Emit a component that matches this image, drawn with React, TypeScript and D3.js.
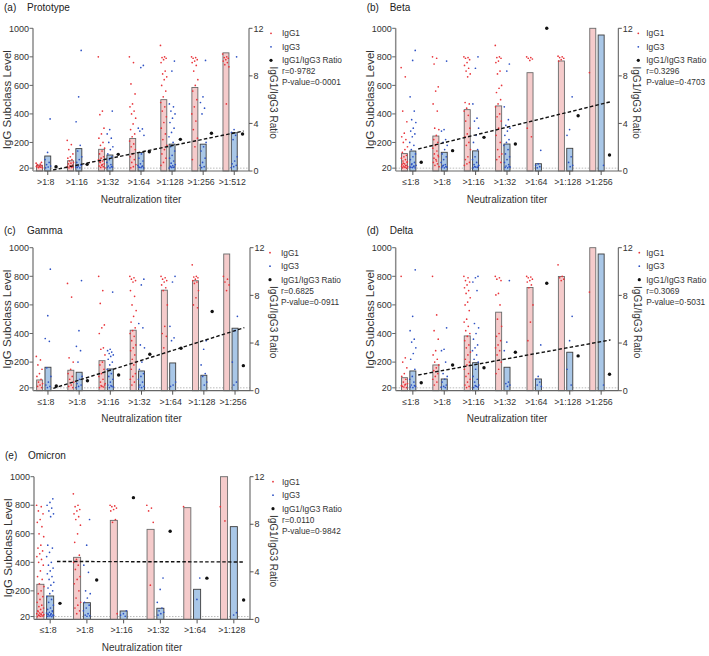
import React from "react";
import * as d3 from "d3";

// ---------- DATA ----------
const catsA = [">1:8", ">1:16", ">1:32", ">1:64", ">1:128", ">1:256", ">1:512"];
const catsBCD = ["≤1:8", ">1:8", ">1:16", ">1:32", ">1:64", ">1:128", ">1:256"];
const catsE = ["≤1:8", ">1:8", ">1:16", ">1:32", ">1:64", ">1:128"];

const igg1MeanA = [40, 72, 152, 228, 500, 585, 828];
const igg3MeanA = [105, 157, 112, 130, 188, 188, 268];
const ratioA = [0.36, 0.56, 1.4, 1.62, 2.66, 3.17, 3.11];
const fitA = [0.08, 3.36];
const statsA = ["r=0·9782", "P-value=0·0001"];
const igg1PtsA = [
  [55, 48, 42, 38, 33, 30, 27, 24, 22, 35, 45, 60, 26, 32],
  [215, 185, 150, 120, 100, 90, 80, 70, 60, 55, 50, 42, 36, 30, 25, 22, 28, 34],
  [800, 420, 395, 300, 260, 230, 200, 180, 160, 140, 120, 100, 90, 80, 70, 60, 50, 40, 35, 30, 25, 22, 45, 65],
  [800, 760, 610, 540, 470, 450, 420, 400, 370, 330, 290, 260, 240, 210, 190, 170, 150, 120, 100, 80, 60, 45, 30, 22],
  [880, 800, 795, 790, 780, 760, 700, 680, 660, 640, 600, 560, 520, 480, 450, 420, 380, 340, 300, 260, 220, 180, 150, 120, 90, 60, 40],
  [800, 795, 790, 780, 770, 760, 740, 700, 640, 600, 560, 500, 450, 400, 350, 290, 230, 170, 80],
  [820, 800, 795, 790, 780, 770, 760, 745, 730, 470],
];
const igg3PtsA = [
  [365, 130, 80, 60, 45, 35, 28, 22],
  [845, 520, 345, 180, 140, 100, 80, 60, 45, 35, 28, 22, 25, 40],
  [420, 290, 260, 230, 200, 170, 150, 120, 100, 80, 60, 45, 35, 28, 22, 25, 30],
  [740, 725, 300, 295, 280, 250, 120, 90, 70, 50, 40, 32, 26, 22, 24, 28, 35],
  [770, 700, 470, 450, 420, 400, 370, 340, 300, 270, 240, 200, 170, 140, 110, 90, 70, 55, 45, 38, 32, 28, 24, 21, 26, 30],
  [775, 520, 480, 440, 400, 200, 170, 140, 90, 60, 40, 30, 24],
  [800, 290, 270, 250, 220, 100, 70, 50, 40, 30, 24],
];

const igg1MeanB = [122, 245, 430, 456, 689, 771, 1000];
const igg3MeanB = [140, 131, 141, 189, 51, 159, 953];
const ratioB = [0.73, 1.71, 2.83, 2.27, 12.0, 4.65, 1.34];
const fitB = [1.85, 5.82];
const statsB = ["r=0.3296", "P-value=0·4703"];
const igg1PtsB = [
  [725, 660, 420, 345, 265, 240, 220, 200, 170, 150, 130, 110, 100, 90, 80, 70, 60, 50, 45, 40, 35, 30, 25, 22, 20, 28, 33, 38, 55, 65],
  [800, 790, 750, 590, 560, 470, 420, 300, 290, 250, 220, 200, 180, 160, 140, 120, 100, 80, 60, 50, 40, 30, 70, 90, 110],
  [800, 795, 790, 780, 760, 740, 720, 700, 680, 660, 480, 470, 440, 420, 390, 350, 300, 260, 240, 200, 180, 150, 100, 80, 60, 50, 40],
  [880, 800, 795, 790, 770, 760, 700, 680, 600, 580, 550, 500, 470, 450, 400, 380, 350, 300, 250, 200, 150, 120, 100, 80, 60],
  [800, 795, 790, 785, 775, 300, 240],
  [805, 800, 795, 790, 780, 770],
  [690],
];
const igg3PtsB = [
  [845, 775, 520, 420, 360, 340, 300, 280, 260, 240, 200, 180, 150, 120, 100, 80, 60, 50, 40, 32, 26, 22, 24, 28, 35, 45],
  [770, 290, 280, 220, 200, 180, 150, 120, 100, 80, 60, 45, 35, 28, 22, 25, 30, 40],
  [800, 720, 470, 370, 350, 300, 250, 200, 150, 100, 80, 60, 45, 35, 28, 22, 25, 30, 40],
  [750, 700, 450, 360, 320, 300, 280, 250, 220, 200, 180, 150, 120, 100, 80, 60, 45, 35, 28, 22, 25, 30],
  [145, 50, 40, 30, 22],
  [520, 290, 250, 100, 60, 40, 30],
  [40],
];

const igg1MeanC = [75, 143, 210, 423, 703, 769, 956];
const igg3MeanC = [164, 129, 152, 138, 194, 108, 437];
const ratioC = [0.39, 0.84, 1.32, 3.06, 3.56, 6.64, 2.1];
const fitC = [0.2, 5.29];
const statsC = ["r=0.6825", "P-value=0·0911"];
const igg1PtsC = [
  [240, 215, 180, 150, 120, 100, 80, 60, 50, 40, 30, 22],
  [750, 655, 230, 200, 150, 120, 100, 80, 60, 40, 30, 22],
  [800, 700, 610, 460, 440, 400, 300, 290, 250, 200, 180, 150, 120, 100, 80, 60, 40, 30, 22, 26, 35, 50],
  [800, 790, 780, 770, 760, 700, 660, 600, 560, 520, 480, 440, 420, 400, 380, 350, 320, 300, 280, 250, 220, 200, 180, 150, 120, 100, 80, 60, 40],
  [800, 790, 780, 770, 760, 740, 720, 700, 600, 450, 400, 380, 300],
  [880, 800, 795, 790, 780, 770, 760, 750, 700, 650, 600, 580],
  [800, 780, 760, 740, 700],
];
const igg3PtsC = [
  [850, 525, 365, 345, 160, 100, 60, 40, 30, 22],
  [770, 420, 310, 280, 200, 100, 80, 50, 40, 30, 22],
  [690, 290, 280, 270, 260, 250, 240, 220, 200, 180, 150, 120, 100, 80, 60, 40, 30, 22, 26, 35],
  [780, 740, 470, 440, 320, 300, 200, 150, 120, 100, 80, 60, 40, 30, 22, 26],
  [800, 760, 450, 370, 350, 60, 40, 30],
  [350, 290, 180, 120, 100, 60, 40],
  [520, 420, 200, 60, 40],
];

const igg1MeanD = [91, 180, 383, 549, 722, 799, 1000];
const igg3MeanD = [138, 82, 196, 164, 82, 269, 956];
const ratioD = [0.67, 2.16, 1.93, 3.23, 9.02, 2.92, 1.38];
const fitD = [1.32, 4.26];
const statsD = ["r=0.3069", "P-value=0·5031"];
const igg1PtsD = [
  [800, 230, 200, 160, 120, 100, 80, 60, 50, 40, 30, 22, 26, 35, 45],
  [800, 530, 420, 360, 280, 250, 220, 200, 180, 160, 140, 120, 100, 80, 60, 40],
  [800, 790, 770, 760, 740, 720, 700, 680, 650, 620, 600, 560, 500, 480, 450, 420, 400, 380, 350, 320, 300, 270, 250, 220, 200, 180, 150, 120, 100, 80, 60, 40, 30, 22],
  [800, 790, 780, 770, 680, 670, 600, 500, 450, 400, 380, 350, 320, 300, 280, 250, 200, 150, 120],
  [800, 795, 790, 780, 770, 760, 740, 720, 600, 480, 350],
  [880, 800, 790, 780, 770],
  [690],
];
const igg3PtsD = [
  [845, 520, 420, 360, 340, 300, 260, 220, 150, 100, 80, 60, 40, 30, 22, 26, 35],
  [440, 290, 280, 200, 120, 100, 80, 60, 40, 30, 25, 22],
  [800, 790, 760, 700, 470, 440, 400, 360, 320, 300, 280, 250, 220, 200, 150, 100, 80, 60, 40, 30, 22, 26, 35],
  [770, 340, 280, 60, 50, 40, 30],
  [320, 100, 80, 60, 40, 30],
  [520, 350, 150, 40],
  [40],
];

const igg1MeanE = [246, 435, 694, 631, 783, 1000];
const igg3MeanE = [164, 117, 59, 78, 211, 650];
const ratioE = [1.35, 3.31, 10.24, 7.41, 3.47, 1.63];
const fitE = [4.87, 4.83];
const statsE = ["r=0.0110", "P-value=0·9842"];
const igg1PtsE = [
  [800, 790, 760, 740, 700, 680, 650, 600, 580, 520, 500, 480, 460, 440, 420, 400, 380, 340, 300, 280, 250, 230, 200, 180, 160, 140, 120, 100, 90, 80, 70, 60, 50, 45, 40, 35, 30, 25, 22, 20, 24, 28, 33, 38, 55],
  [880, 800, 790, 770, 760, 740, 720, 700, 660, 600, 540, 450, 420, 400, 380, 350, 300, 280, 250, 200, 150, 120, 100, 80, 60, 40],
  [800, 795, 790, 780, 770, 760, 700, 680, 40],
  [800, 780, 760, 680, 240],
  [790],
  [790, 690],
];
const igg3PtsE = [
  [845, 820, 800, 780, 760, 740, 720, 520, 500, 470, 440, 400, 380, 360, 340, 320, 300, 280, 260, 240, 220, 200, 180, 160, 140, 120, 100, 80, 70, 60, 50, 45, 40, 35, 30, 25, 22, 20, 24, 28, 33, 38, 55],
  [700, 520, 380, 330, 200, 180, 150, 120, 100, 80, 60, 40, 30, 25, 22],
  [60, 40, 30, 22],
  [290, 210, 120, 80, 60, 50, 40, 30],
  [290, 140],
  [47, 31],
];

const leftTicks = [20, 200, 400, 600, 800, 1000];
const rightTicks = [0, 4, 8, 12];
const legendLabels = ["IgG1", "IgG3", "IgG1/IgG3 Ratio"];

// ---------- LAYOUT ----------
const FONT = "'Liberation Sans', Arial, Helvetica, sans-serif";
const GROUP = 3.75;

const panels = [
  { letter: "(a)", name: "Prototype", cats: catsA, g1: igg1MeanA, g3: igg3MeanA, ratio: ratioA, fit: fitA, stats: statsA, p1: igg1PtsA, p3: igg3PtsA,
    L: { x0: 33, x1: 249, yTop: 28.3, yBase: 171, pad: 0.78, titleY: 11, mk: 22, tx: 33, rt: 21 } },
  { letter: "(b)", name: "Beta", cats: catsBCD, g1: igg1MeanB, g3: igg3MeanB, ratio: ratioB, fit: fitB, stats: statsB, p1: igg1PtsB, p3: igg3PtsB,
    L: { x0: 395.7, x1: 618.3, yTop: 28.3, yBase: 171, pad: 1.05, titleY: 11, mk: 20, tx: 28, rt: 14.5 } },
  { letter: "(c)", name: "Gamma", cats: catsBCD, g1: igg1MeanC, g3: igg3MeanC, ratio: ratioC, fit: fitC, stats: statsC, p1: igg1PtsC, p3: igg3PtsC,
    L: { x0: 33, x1: 250, yTop: 247.7, yBase: 390.7, pad: 0.8, titleY: 234, mk: 20, tx: 31, rt: 19.5 } },
  { letter: "(d)", name: "Delta", cats: catsBCD, g1: igg1MeanD, g3: igg3MeanD, ratio: ratioD, fit: fitD, stats: statsD, p1: igg1PtsD, p3: igg3PtsD,
    L: { x0: 395.7, x1: 618.3, yTop: 247.7, yBase: 390.7, pad: 1.05, titleY: 234, mk: 21, tx: 28, rt: 16 } },
  { letter: "(e)", name: "Omicron", cats: catsE, g1: igg1MeanE, g3: igg3MeanE, ratio: ratioE, fit: fitE, stats: statsE, p1: igg1PtsE, p3: igg3PtsE,
    L: { x0: 34, x1: 250, yTop: 476.7, yBase: 619.4, pad: 0.65, titleY: 458.5, mk: 23, tx: 32, rt: 20 } },
];

function Panel({ p }: { p: any }) {
  const { L, cats } = p;
  const n = cats.length;
  const x = d3.scaleLinear().domain([-L.pad, (n - 1) * GROUP + 2 + L.pad]).range([L.x0, L.x1]);
  const slot = x(1) - x(0);
  const bw = slot * 0.72;
  const y = d3.scaleLinear().domain([0, 1000]).range([L.yBase, L.yTop]);
  const yR = d3.scaleLinear().domain([0, 12]).range([L.yBase, L.yTop]);
  const jit = (j: number) => (((j * 0.618034) % 1) - 0.5) * Math.min(slot * 0.8, 7.5);
  const midY = (L.yTop + L.yBase) / 2;
  const lineGen = d3.line<[number, number]>().x((d) => d[0]).y((d) => d[1]);
  const fitPts: [number, number][] = [
    [x(2) - 3, yR(p.fit[0])],
    [x((n - 1) * GROUP + 2) + 1, yR(p.fit[1])],
  ];
  return (
    <g fontFamily={FONT}>
      <text x={L.x0 - 29} y={L.titleY} fontSize={10} fill="#222">{p.letter}</text>
      <text x={L.x0 - 6} y={L.titleY} fontSize={10} fill="#222">{p.name}</text>

      {/* reference line at 20 */}
      <line x1={L.x0} x2={L.x1} y1={y(20)} y2={y(20)} stroke="#aaa" strokeWidth={0.8} strokeDasharray="1.5,1.5" />

      {/* bars */}
      {cats.map((c: string, i: number) => {
        const v1 = Math.min(p.g1[i], 1000);
        const v3 = Math.min(p.g3[i], 1000);
        const cx1 = x(i * GROUP);
        const cx3 = x(i * GROUP + 1);
        return (
          <g key={c}>
            <rect x={cx1 - bw / 2} y={y(v1)} width={bw} height={y(0) - y(v1)} fill="#f5cbcb" stroke="#6a6a6a" strokeWidth={0.9} />
            <rect x={cx3 - bw / 2} y={y(v3)} width={bw} height={y(0) - y(v3)} fill="#a9c7e7" stroke="#3d3d3d" strokeWidth={0.9} />
          </g>
        );
      })}

      {/* points */}
      {cats.map((c: string, i: number) => (
        <g key={"p" + c}>
          {p.p1[i].map((v: number, j: number) => (
            <circle key={"a" + j} cx={x(i * GROUP) + jit(j)} cy={y(v)} r={0.85} fill="#e8353b" />
          ))}
          {p.p3[i].map((v: number, j: number) => (
            <circle key={"b" + j} cx={x(i * GROUP + 1) + jit(j + 3)} cy={y(v)} r={0.85} fill="#2e52c4" />
          ))}
        </g>
      ))}

      {/* ratio dots */}
      {p.ratio.map((v: number, i: number) => (
        <circle key={"r" + i} cx={x(i * GROUP + 2)} cy={yR(v)} r={1.7} fill="#111" />
      ))}
      <path d={lineGen(fitPts) || ""} stroke="#111" strokeWidth={1.4} strokeDasharray="3.5,2.2" fill="none" />

      {/* axes */}
      <line x1={L.x0} x2={L.x1} y1={L.yBase} y2={L.yBase} stroke="#666" strokeWidth={1.2} />
      <line x1={L.x0} x2={L.x0} y1={L.yTop} y2={L.yBase} stroke="#8a8a8a" strokeWidth={1.5} />
      <line x1={L.x1} x2={L.x1} y1={L.yTop} y2={L.yBase} stroke="#555" strokeWidth={1} />
      {leftTicks.map((t) => (
        <g key={"lt" + t}>
          <line x1={L.x0 - 3.5} x2={L.x0} y1={y(t)} y2={y(t)} stroke="#666" strokeWidth={1} />
          <text x={L.x0 - 4} y={y(t) + 3.2} fontSize={9} textAnchor="end" fill="#333">{t}</text>
        </g>
      ))}
      {rightTicks.map((t) => (
        <g key={"rt" + t}>
          <line x1={L.x1} x2={L.x1 + 3.5} y1={yR(t)} y2={yR(t)} stroke="#555" strokeWidth={1} />
          <text x={L.x1 + 4.5} y={yR(t) + 3.2} fontSize={9} textAnchor="start" fill="#333">{t}</text>
        </g>
      ))}
      {cats.map((c: string, i: number) => (
        <g key={"xt" + c}>
          <line x1={x(i * GROUP + 1)} x2={x(i * GROUP + 1)} y1={L.yBase} y2={L.yBase + 4} stroke="#555" strokeWidth={1} />
          <text x={x(i * GROUP + 1) - 2} y={L.yBase + 14} fontSize={8.8} textAnchor="middle" fill="#333">{c}</text>
        </g>
      ))}
      <text x={(L.x0 + L.x1) / 2} y={L.yBase + 31.5} fontSize={10} textAnchor="middle" fill="#333">Neutralization titer</text>
      <text transform={`translate(${L.x0 - 22},${midY}) rotate(-90)`} fontSize={11.5} textAnchor="middle" fill="#333">IgG Subclass Level</text>
      <text transform={`translate(${L.x1 + L.rt},${midY + 3}) rotate(90)`} fontSize={10} textAnchor="middle" fill="#333">IgG1/IgG3 Ratio</text>

      {/* legend */}
      <circle cx={L.x1 + L.mk} cy={L.yTop + 5} r={0.9} fill="#e8353b" />
      <circle cx={L.x1 + L.mk} cy={L.yTop + 18.5} r={0.9} fill="#2e52c4" />
      <circle cx={L.x1 + L.mk} cy={L.yTop + 32} r={1.6} fill="#111" />
      {legendLabels.map((t, k) => (
        <text key={t} x={L.x1 + L.tx} y={L.yTop + 5 + k * 13.5 + 3} fontSize={8.3} fill="#333">{t}</text>
      ))}
      <text x={L.x1 + L.tx} y={L.yTop + 43 + 3} fontSize={8.3} fill="#333">{p.stats[0]}</text>
      <text x={L.x1 + L.tx} y={L.yTop + 54 + 3} fontSize={8.3} fill="#333">{p.stats[1]}</text>
    </g>
  );
}

export default function App() {
  return (
    <svg width={709} height={656} style={{ position: "absolute", left: 0, top: 0, background: "#fff" }}>
      <rect width={709} height={656} fill="#fff" />
      {panels.map((p) => (
        <Panel key={p.letter} p={p} />
      ))}
    </svg>
  );
}
